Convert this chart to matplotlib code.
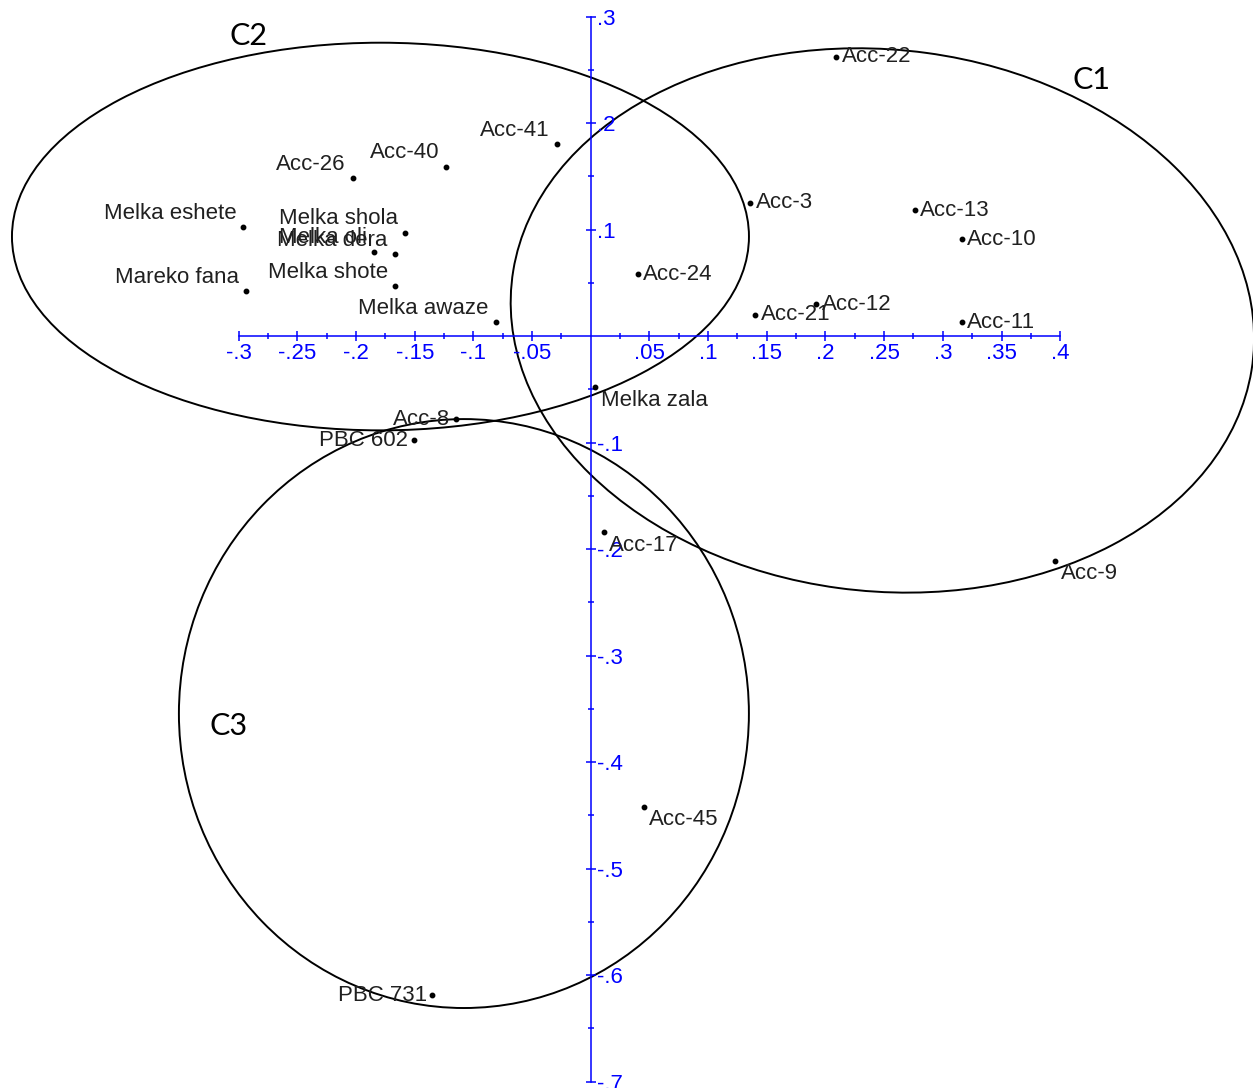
import matplotlib.pyplot as plt
from matplotlib.patches import Ellipse
import numpy as np

# accession scores on the first two axes
names = ['Acc-22', 'Acc-41', 'Acc-40', 'Acc-26', 'Melka eshete', 'Melka shola',
         'Melka oli', 'Melka dera', 'Mareko fana', 'Melka shote', 'Melka awaze',
         'Acc-3', 'Acc-13', 'Acc-10', 'Acc-24', 'Acc-12', 'Acc-21', 'Acc-11',
         'Melka zala', 'Acc-8', 'PBC 602', 'Acc-17', 'Acc-9', 'Acc-45', 'PBC 731']
pc1 = [0.209, -0.029, -0.123, -0.203, -0.296, -0.158,
       -0.185, -0.167, -0.294, -0.167, -0.081,
       0.136, 0.276, 0.316, 0.040, 0.192, 0.140, 0.316,
       0.004, -0.115, -0.151, 0.011, 0.396, 0.045, -0.135]
pc2 = [0.262, 0.180, 0.159, 0.148, 0.102, 0.097,
       0.079, 0.077, 0.042, 0.047, 0.013,
       0.125, 0.118, 0.091, 0.058, 0.030, 0.020, 0.013,
       -0.048, -0.078, -0.098, -0.184, -0.211, -0.442, -0.619]

# where each name sits relative to its point
placement = ['r', 'la', 'la', 'la', 'la', 'la',
             'la', 'la', 'la', 'la', 'la',
             'r', 'r', 'r', 'r', 'r', 'r', 'r',
             'rb', 'l', 'l', 'rb', 'rb', 'rb', 'l']

# cluster outlines: centre x, centre y, width, height, angle
clusters = ['C1', 'C2', 'C3']
cluster_x = [0.2485, -0.1792, -0.1081]
cluster_y = [0.0146, 0.0934, -0.3545]
cluster_w = [0.636, 0.628, 0.4857]
cluster_h = [0.508, 0.364, 0.553]
cluster_angle = [-8.5, 0.0, 0.0]
cluster_label_x = [0.427, -0.292, -0.309]
cluster_label_y = [0.240, 0.282, -0.366]

x_ticks = [-0.3, -0.25, -0.2, -0.15, -0.1, -0.05, 0.05, 0.1, 0.15, 0.2,
           0.25, 0.3, 0.35, 0.4]
x_tick_labels = ['-.3', '-.25', '-.2', '-.15', '-.1', '-.05', '.05', '.1', '.15',
                 '.2', '.25', '.3', '.35', '.4']
y_ticks = [0.3, 0.2, 0.1, -0.1, -0.2, -0.3, -0.4, -0.5, -0.6, -0.7]
y_tick_labels = ['.3', '.2', '.1', '-.1', '-.2', '-.3', '-.4', '-.5', '-.6', '-.7']

offsets = {'r': ((4, 0), 'left'), 'rb': ((4, -9.5), 'left'),
           'la': ((-5, 10), 'right'), 'l': ((-4, 0), 'right')}

plt.rcParams['font.family'] = ['Liberation Sans', 'DejaVu Sans']

fig = plt.figure(figsize=(12.53, 10.88), dpi=100)
ax = fig.add_axes([0, 0, 1, 1])
ax.set_xlim(-0.5034, 0.5643)
ax.set_ylim(-0.7061, 0.3155)

blue = '#0000ff'
for side in ['left', 'top']:
    ax.spines[side].set_visible(False)
ax.spines['bottom'].set_position(('data', 0))
ax.spines['bottom'].set_bounds(-0.3, 0.4)
ax.spines['right'].set_position(('data', 0))
ax.spines['right'].set_bounds(-0.7, 0.3)
for side in ['bottom', 'right']:
    ax.spines[side].set_color(blue)
    ax.spines[side].set_linewidth(1.1)
ax.yaxis.set_ticks_position('right')

ax.set_xticks(x_ticks)
ax.set_xticklabels(x_tick_labels)
ax.set_xticks(np.arange(-0.275, 0.4, 0.05), minor=True)
ax.set_yticks(y_ticks)
ax.set_yticklabels(y_tick_labels)
ax.set_yticks(np.arange(-0.65, 0.3, 0.1), minor=True)
ax.tick_params(which='major', direction='inout', length=6.5, width=1.1,
               color=blue, labelcolor=blue, labelsize=16)
ax.tick_params(which='minor', direction='inout', length=4.3, width=1.1, color=blue)
ax.tick_params(axis='x', pad=2)
ax.tick_params(axis='y', pad=1)

for i in range(len(clusters)):
    ax.add_patch(Ellipse((cluster_x[i], cluster_y[i]), cluster_w[i], cluster_h[i],
                         angle=cluster_angle[i], fill=False, edgecolor='black',
                         linewidth=1.4))
    ax.text(cluster_label_x[i], cluster_label_y[i], clusters[i], fontsize=22,
            family=['Lato', 'DejaVu Sans'], ha='center', va='center', color='black')

ax.plot(pc1, pc2, 'o', color='black', markersize=3.2, linestyle='none')
for name, x, y, p in zip(names, pc1, pc2, placement):
    off, ha = offsets[p]
    ax.annotate(name, (x, y), xytext=off, textcoords='offset points',
                ha=ha, va='center', fontsize=16, color='#202020')

fig.savefig('out.png', dpi=100)
